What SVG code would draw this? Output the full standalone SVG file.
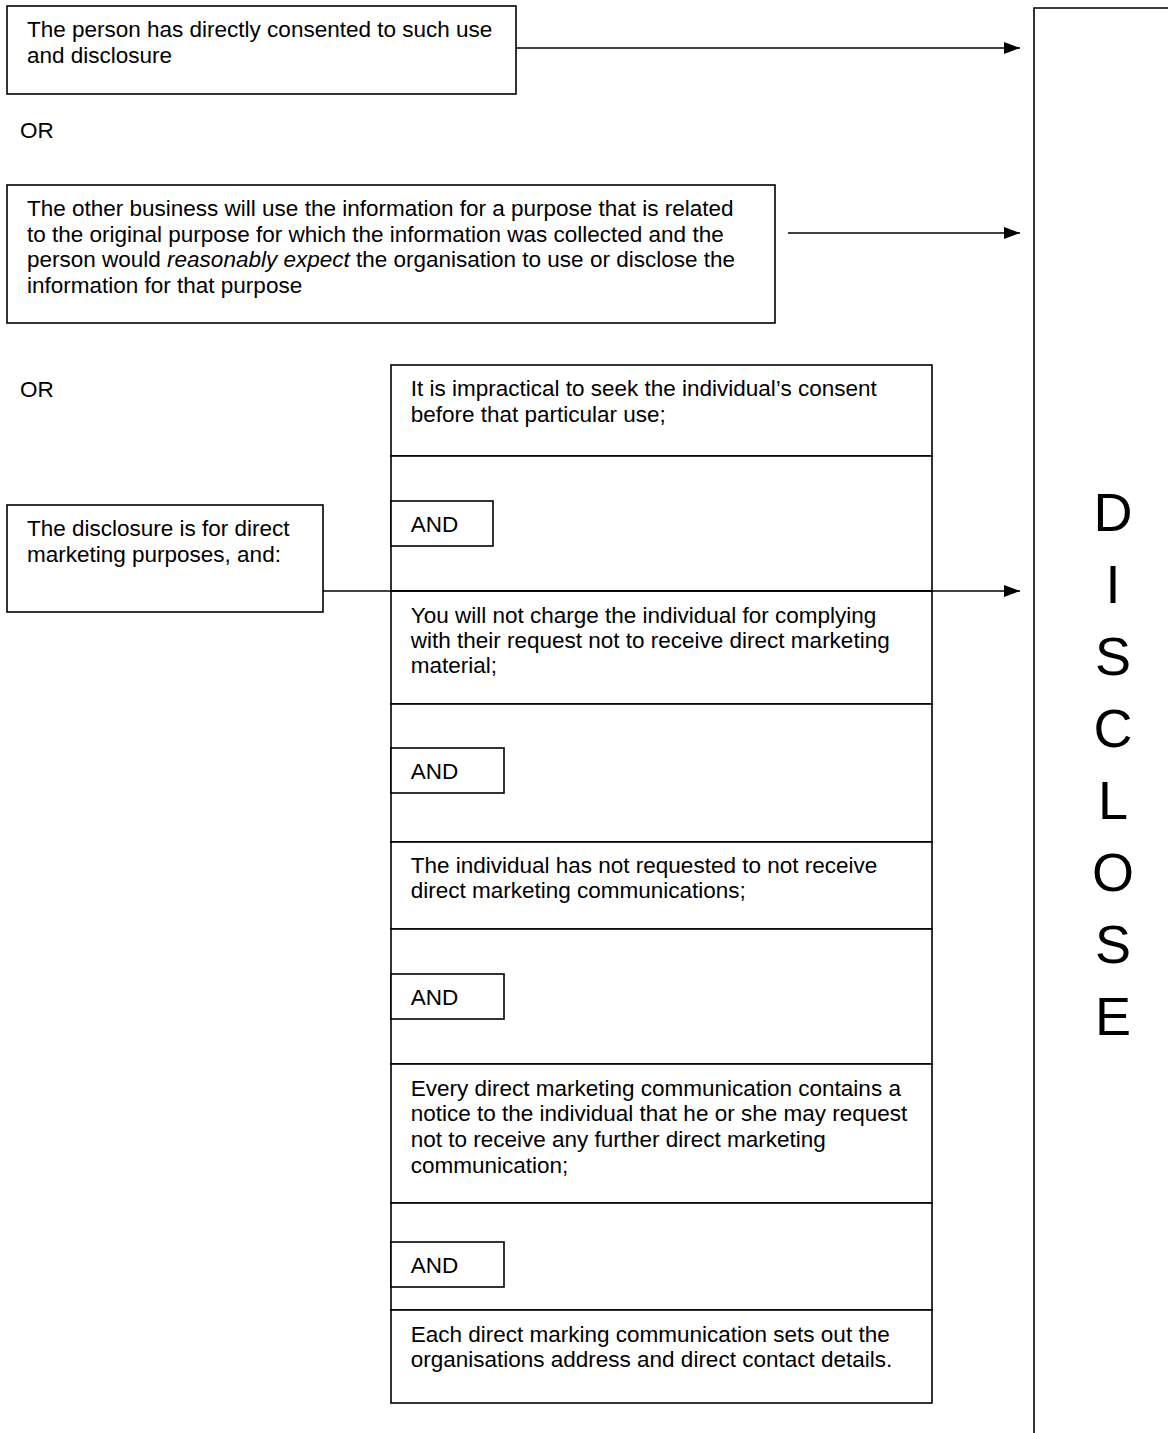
<svg xmlns="http://www.w3.org/2000/svg" width="1168" height="1433" viewBox="0 0 1168 1433">
<style>
  .box { fill: #fff; stroke: #000; stroke-width: 1.6; }
  .t { font-family: "Liberation Sans", Arial, sans-serif; font-size: 22.5px; fill: #000; }
  .big { font-family: "Liberation Sans", Arial, sans-serif; font-size: 54px; fill: #000; text-anchor: middle; }
  .conn { stroke: #000; stroke-width: 1.5; fill: none; }
</style>
<defs>
  <marker id="ah" markerWidth="16" markerHeight="12" refX="16" refY="6" orient="auto" markerUnits="userSpaceOnUse">
    <path d="M0,0 L16,6 L0,12 z" fill="#000"/>
  </marker>
</defs>
<rect width="1168" height="1433" fill="#fff"/>

<g id="disclose">
  <path class="box" d="M1168,8 H1034 V1433"/>
  <text class="big" x="1113" y="531">D</text>
  <text class="big" x="1113" y="603">I</text>
  <text class="big" x="1113" y="675">S</text>
  <text class="big" x="1113" y="747">C</text>
  <text class="big" x="1113" y="819">L</text>
  <text class="big" x="1113" y="891">O</text>
  <text class="big" x="1113" y="963">S</text>
  <text class="big" x="1113" y="1035">E</text>
</g>

<g id="consent">
  <rect class="box" x="7" y="6" width="509" height="88"/>
  <text class="t" x="27" y="37">The person has directly consented to such use</text>
  <text class="t" x="27" y="62.5">and disclosure</text>
</g>

<g id="or1"><text class="t" x="20" y="138">OR</text></g>

<g id="related">
  <rect class="box" x="7" y="185" width="768" height="138"/>
  <text class="t" x="27" y="215.7">The other business will use the information for a purpose that is related</text>
  <text class="t" x="27" y="241.6">to the original purpose for which the information was collected and the</text>
  <text class="t" x="27" y="267.4">person would <tspan font-style="italic">reasonably expect</tspan> the organisation to use or disclose the</text>
  <text class="t" x="27" y="293.3">information for that purpose</text>
</g>

<g id="or2"><text class="t" x="20" y="396.7">OR</text></g>

<g id="direct-marketing">
  <rect class="box" x="7" y="505" width="316" height="107"/>
  <text class="t" x="27" y="536">The disclosure is for direct</text>
  <text class="t" x="27" y="561.7">marketing purposes, and:</text>
</g>

<g id="cond-impractical">
  <rect class="box" x="391" y="365" width="541" height="91"/>
  <text class="t" x="410.7" y="396">It is impractical to seek the individual’s consent</text>
  <text class="t" x="410.7" y="421.7">before that particular use;</text>
</g>
<g id="and1">
  <rect class="box" x="391" y="456" width="541" height="135"/>
  <rect class="box" x="391" y="501" width="102" height="45"/>
  <text class="t" x="410.7" y="531.7">AND</text>
</g>
<g id="cond-charge">
  <rect class="box" x="391" y="591" width="541" height="113"/>
  <text class="t" x="410.7" y="622.7">You will not charge the individual for complying</text>
  <text class="t" x="410.7" y="647.7">with their request not to receive direct marketing</text>
  <text class="t" x="410.7" y="672.7">material;</text>
</g>
<g id="and2">
  <rect class="box" x="391" y="704" width="541" height="138"/>
  <rect class="box" x="391" y="748" width="113" height="45"/>
  <text class="t" x="410.7" y="779">AND</text>
</g>
<g id="cond-not-requested">
  <rect class="box" x="391" y="842" width="541" height="87"/>
  <text class="t" x="410.7" y="873.3">The individual has not requested to not receive</text>
  <text class="t" x="410.7" y="898.3">direct marketing communications;</text>
</g>
<g id="and3">
  <rect class="box" x="391" y="929" width="541" height="135"/>
  <rect class="box" x="391" y="974" width="113" height="45"/>
  <text class="t" x="410.7" y="1005">AND</text>
</g>
<g id="cond-notice">
  <rect class="box" x="391" y="1064" width="541" height="139"/>
  <text class="t" x="410.7" y="1095.5">Every direct marketing communication contains a</text>
  <text class="t" x="410.7" y="1121.2">notice to the individual that he or she may request</text>
  <text class="t" x="410.7" y="1147">not to receive any further direct marketing</text>
  <text class="t" x="410.7" y="1172.7">communication;</text>
</g>
<g id="and4">
  <rect class="box" x="391" y="1203" width="541" height="107"/>
  <rect class="box" x="391" y="1242" width="113" height="45"/>
  <text class="t" x="410.7" y="1273">AND</text>
</g>
<g id="cond-address">
  <rect class="box" x="391" y="1310" width="541" height="93"/>
  <text class="t" x="410.7" y="1341.7">Each direct marking communication sets out the</text>
  <text class="t" x="410.7" y="1367">organisations address and direct contact details.</text>
</g>

<g id="connectors">
  <line class="conn" x1="516" y1="48" x2="1020" y2="48" marker-end="url(#ah)"/>
  <line class="conn" x1="788" y1="233" x2="1020" y2="233" marker-end="url(#ah)"/>
  <line class="conn" x1="323" y1="591" x2="1020" y2="591" marker-end="url(#ah)"/>
</g>
</svg>
